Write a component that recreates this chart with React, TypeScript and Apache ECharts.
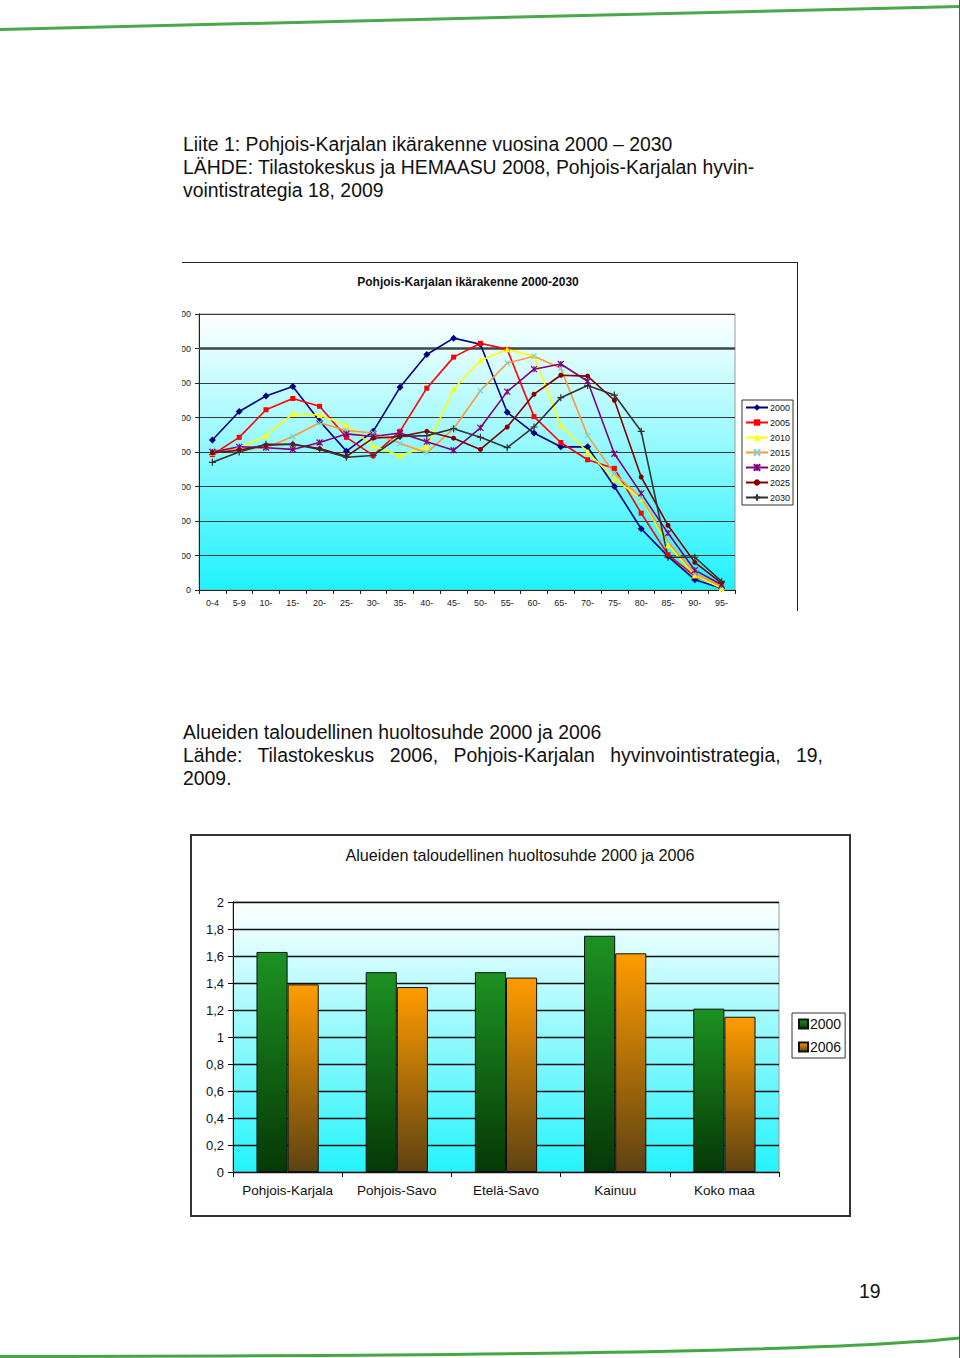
import React, { useEffect, useRef } from 'react';
import * as echarts from 'echarts';

// ---------- Data: Pohjois-Karjalan ikärakenne 2000-2030 ----------
const ageGroups = ['0-4', '5-9', '10-', '15-', '20-', '25-', '30-', '35-', '40-', '45-', '50-', '55-', '60-', '65-', '70-', '75-', '80-', '85-', '90-', '95-'];
const pop2000 = [8700, 10350, 11250, 11800, 9800, 8050, 9200, 11750, 13650, 14600, 14250, 10300, 9100, 8300, 8300, 6000, 3550, 1950, 600, 100];
const pop2005 = [7850, 8850, 10450, 11100, 10650, 8850, 7800, 9200, 11700, 13500, 14300, 13950, 10050, 8550, 7550, 7050, 4450, 2050, 800, 200];
const pop2010 = [7950, 8200, 8950, 10200, 10150, 9550, 8350, 7800, 8300, 11650, 13300, 13950, 13550, 9550, 8000, 6450, 5300, 2600, 850, 100];
const pop2015 = [8100, 8150, 8250, 8900, 9700, 9250, 9100, 8500, 7950, 9350, 11550, 13150, 13550, 12850, 8950, 6750, 5350, 2800, 950, 200];
const pop2020 = [8000, 8300, 8250, 8150, 8550, 9050, 8900, 9100, 8600, 8100, 9400, 11500, 12800, 13100, 12100, 7900, 5600, 3300, 1150, 300];
const pop2025 = [7950, 8100, 8400, 8450, 8200, 7750, 8800, 8900, 9200, 8800, 8150, 9450, 11350, 12450, 12400, 11000, 6550, 3750, 1600, 400];
const pop2030 = [7400, 8000, 8450, 8450, 8150, 7700, 7800, 8900, 8950, 9350, 8850, 8250, 9450, 11150, 11850, 11300, 9200, 1900, 1900, 500];
const popYears = ['2000', '2005', '2010', '2015', '2020', '2025', '2030'];
const popMax = 16000;
const popStep = 2000;

// ---------- Data: Alueiden taloudellinen huoltosuhde ----------
const regions = ['Pohjois-Karjala', 'Pohjois-Savo', 'Etelä-Savo', 'Kainuu', 'Koko maa'];
const ratio2000 = [1.63, 1.48, 1.48, 1.75, 1.21];
const ratio2006 = [1.39, 1.37, 1.44, 1.62, 1.15];
const ratioYears = ['2000', '2006'];
const ratioMax = 2;
const ratioStep = 0.2;

const FONT = '"Liberation Sans", Arial, sans-serif';

const X_PATH = 'path://M0,0L10,10M10,0L0,10';
const PLUS_PATH = 'path://M5,0L5,10M0,5L10,5';
const STAR_PATH = 'path://M0,0L10,10M10,0L0,10M5,0L5,10';

const lineSpecs = [
  { data: pop2000, color: '#000080', marker: '#000080', symbol: 'diamond', size: 7, stroke: 0 },
  { data: pop2005, color: '#ff0000', marker: '#ff0000', symbol: 'rect', size: 5, stroke: 0 },
  { data: pop2010, color: '#ffff00', marker: '#ffff00', symbol: 'triangle', size: 6, stroke: 0 },
  { data: pop2015, color: '#ff9933', marker: '#7fd0d0', symbol: X_PATH, size: 5, stroke: 1.2 },
  { data: pop2020, color: '#800080', marker: '#800080', symbol: STAR_PATH, size: 6, stroke: 1.2 },
  { data: pop2025, color: '#800000', marker: '#800000', symbol: 'circle', size: 5, stroke: 0 },
  { data: pop2030, color: '#333333', marker: '#333333', symbol: PLUS_PATH, size: 7, stroke: 1.2 },
];

const plotBg = (bottom: string) => ({
  type: 'linear', x: 0, y: 0, x2: 0, y2: 1,
  colorStops: [
    { offset: 0, color: '#ffffff' },
    { offset: 1, color: bottom },
  ],
});

// The source picture is cropped at its left edge: only the last digits of each tick label show.
const croppedTick = (v: number) => String(v).slice(-2);

function PopulationChart() {
  const ref = useRef<HTMLDivElement>(null);
  useEffect(() => {
    if (!ref.current) return;
    const chart = echarts.init(ref.current, undefined, { renderer: 'svg' });
    chart.setOption({
      animation: false,
      textStyle: { fontFamily: FONT },
      title: {
        text: 'Pohjois-Karjalan ikärakenne 2000-2030',
        left: 281,
        textAlign: 'center',
        top: 8,
        textStyle: { fontSize: 12, fontWeight: 'bold', color: '#111', fontFamily: FONT },
      },
      legend: {
        data: popYears,
        orient: 'vertical',
        left: 560,
        top: 137,
        itemWidth: 22,
        itemHeight: 8,
        itemGap: 6,
        padding: [3, 3, 3, 3],
        borderColor: '#333',
        borderWidth: 1,
        backgroundColor: '#fff',
        textStyle: { fontSize: 9, color: '#111', fontFamily: FONT, padding: [0, 0, 0, -3] },
      },
      grid: {
        left: 17, right: 62, top: 51, bottom: 21,
        show: true,
        borderColor: '#9a9a9a',
        borderWidth: 1,
        backgroundColor: plotBg('#1ff2fc'),
        outerBoundsMode: 'none',
        containLabel: false,
      },
      xAxis: {
        type: 'category',
        data: ageGroups,
        boundaryGap: true,
        axisLine: { lineStyle: { color: '#222', width: 1 } },
        axisTick: { show: true, length: 4, interval: 0, lineStyle: { color: '#222' } },
        axisLabel: { fontSize: 9, color: '#222', interval: 0, margin: 8, fontFamily: FONT },
        splitLine: { show: false },
      },
      yAxis: {
        type: 'value',
        min: 0,
        max: popMax,
        interval: popStep,
        axisLine: { show: true, lineStyle: { color: '#222', width: 1 } },
        axisTick: { show: true, length: 4, lineStyle: { color: '#222' } },
        axisLabel: { fontSize: 9, color: '#222', margin: 8, fontFamily: FONT, formatter: croppedTick },
        splitLine: { show: true, lineStyle: { color: '#3a3a3a', width: 1.2 } },
      },
      series: lineSpecs.map((s, i) => ({
        type: 'line',
        name: popYears[i],
        data: s.data,
        symbol: s.symbol,
        symbolSize: s.size,
        showSymbol: true,
        lineStyle: { color: s.color, width: 1.6 },
        itemStyle: { color: s.marker, borderColor: s.marker, borderWidth: s.stroke },
        emphasis: { disabled: true },
        markLine: i === 0 ? {
          silent: true,
          symbol: 'none',
          label: { show: false },
          lineStyle: { color: '#444', width: 2.6, type: 'solid' },
          data: [{ yAxis: 14000 }],
          z: 1,
        } : undefined,
      })),
    });
    return () => chart.dispose();
  }, []);
  return <div ref={ref} style={{ width: 615, height: 348 }} />;
}

const fmtRatio = (v: number) => (Math.round(v * 10) / 10).toString().replace('.', ',');

const barGrad = (top: string, bottom: string) => ({
  type: 'linear', x: 0, y: 0, x2: 0, y2: 1,
  colorStops: [
    { offset: 0, color: top },
    { offset: 1, color: bottom },
  ],
});

function RatioChart() {
  const ref = useRef<HTMLDivElement>(null);
  useEffect(() => {
    if (!ref.current) return;
    const chart = echarts.init(ref.current, undefined, { renderer: 'svg' });
    chart.setOption({
      animation: false,
      textStyle: { fontFamily: FONT },
      title: {
        text: 'Alueiden taloudellinen huoltosuhde 2000 ja 2006',
        left: 323,
        textAlign: 'center',
        top: 6,
        textStyle: { fontSize: 16.2, fontWeight: 'normal', color: '#111', fontFamily: FONT },
      },
      legend: {
        data: ratioYears,
        orient: 'vertical',
        left: 600,
        top: 177,
        icon: 'rect',
        itemWidth: 9,
        itemHeight: 9,
        itemGap: 9,
        padding: [4, 4, 4, 6],
        borderColor: '#333',
        borderWidth: 1,
        backgroundColor: '#fff',
        textStyle: { fontSize: 14, color: '#111', fontFamily: FONT, padding: [0, 0, 0, -3] },
      },
      grid: {
        left: 41, right: 70, top: 66, bottom: 43,
        show: true,
        borderColor: '#9a9a9a',
        borderWidth: 1,
        backgroundColor: plotBg('#24f3fb'),
        outerBoundsMode: 'none',
        containLabel: false,
      },
      xAxis: {
        type: 'category',
        data: regions,
        axisLine: { lineStyle: { color: '#111', width: 1 } },
        axisTick: { show: true, length: 5, lineStyle: { color: '#111' } },
        axisLabel: { fontSize: 13.5, color: '#111', interval: 0, margin: 11, fontFamily: FONT },
      },
      yAxis: {
        type: 'value',
        min: 0,
        max: ratioMax,
        interval: ratioStep,
        axisLine: { show: true, lineStyle: { color: '#111', width: 1 } },
        axisTick: { show: true, length: 5, lineStyle: { color: '#111' } },
        axisLabel: { fontSize: 13, color: '#111', margin: 9, fontFamily: FONT, formatter: fmtRatio },
        splitLine: { show: true, lineStyle: { color: '#111', width: 1.3 } },
      },
      series: [
        {
          type: 'bar',
          name: ratioYears[0],
          data: ratio2000,
          barGap: '0%',
          barCategoryGap: '43%',
          itemStyle: { color: barGrad('#1c9222', '#063806'), borderColor: '#111', borderWidth: 1 },
          emphasis: { disabled: true },
        },
        {
          type: 'bar',
          name: ratioYears[1],
          data: ratio2006,
          barGap: '0%',
          barCategoryGap: '43%',
          itemStyle: { color: barGrad('#ff9c00', '#5e4212'), borderColor: '#111', borderWidth: 1 },
          emphasis: { disabled: true },
        },
      ],
    });
    return () => chart.dispose();
  }, []);
  return <div ref={ref} style={{ width: 657, height: 379 }} />;
}

export default function App() {
  useEffect(() => {
    document.body.style.margin = '0';
  }, []);
  const textStyle: React.CSSProperties = {
    position: 'absolute',
    fontFamily: FONT,
    fontSize: 19.4,
    lineHeight: '23px',
    color: '#111',
    whiteSpace: 'nowrap',
  };
  return (
    <div style={{ position: 'absolute', left: 0, top: 0, width: 960, height: 1358, background: '#fff', overflow: 'hidden' }}>
      <svg width={960} height={1358} style={{ position: 'absolute', left: 0, top: 0 }}>
        <line x1={0} y1={29.5} x2={960} y2={6.5} stroke="#4aa94a" strokeWidth={3} />
        <path d="M0,1356.5 C420,1356 820,1353 960,1338" stroke="#43a843" strokeWidth={3} fill="none" />
        <line x1={959.5} y1={0} x2={959.5} y2={1358} stroke="#555" strokeWidth={1} />
      </svg>

      <div style={{ ...textStyle, left: 183, top: 133 }}>
        <div>Liite 1: Pohjois-Karjalan ikärakenne vuosina 2000 – 2030</div>
        <div>LÄHDE: Tilastokeskus ja HEMAASU 2008, Pohjois-Karjalan hyvin-</div>
        <div>vointistrategia 18, 2009</div>
      </div>

      <div style={{ position: 'absolute', left: 182, top: 262, borderTop: '1px solid #222', borderRight: '1px solid #222' }}>
        <PopulationChart />
      </div>

      <div style={{ ...textStyle, left: 183, top: 721 }}>
        <div>Alueiden taloudellinen huoltosuhde 2000 ja 2006</div>
        <div style={{ width: 640, textAlign: 'justify', textAlignLast: 'justify' as any, whiteSpace: 'normal' }}>
          Lähde: Tilastokeskus 2006, Pohjois-Karjalan hyvinvointistrategia, 19,
        </div>
        <div>2009.</div>
      </div>

      <div style={{ position: 'absolute', left: 190, top: 834, border: '2px solid #333', background: '#fff' }}>
        <RatioChart />
      </div>

      <div style={{ ...textStyle, left: 859, top: 1280 }}>19</div>
    </div>
  );
}
